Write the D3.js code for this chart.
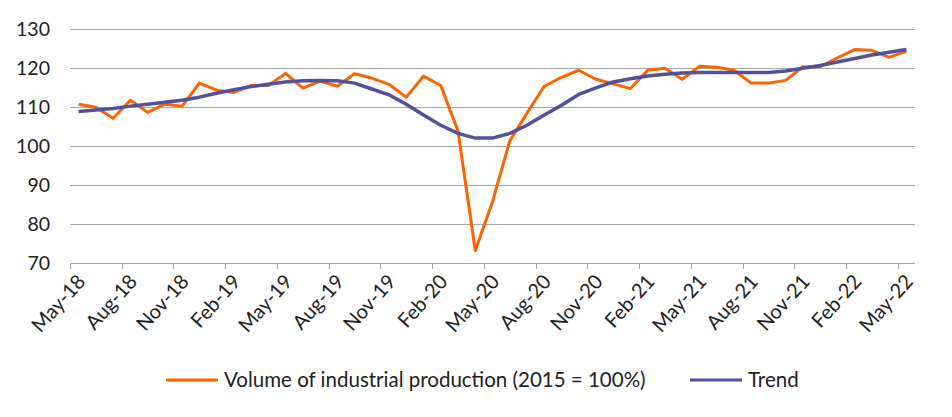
<!DOCTYPE html>
<html>
<head>
<meta charset="utf-8">
<script src="https://cdn.jsdelivr.net/npm/d3@7"></script>
<style>
  html, body { margin: 0; padding: 0; background: #fff; }
  svg { display: block; }
  text { font-family: Lato, "Noto Sans", sans-serif; fill: #222; }
</style>
</head>
<body>
<svg id="chart" width="952" height="417"></svg>
<script>
const months = ["May-18","Jun-18","Jul-18","Aug-18","Sep-18","Oct-18","Nov-18","Dec-18",
  "Jan-19","Feb-19","Mar-19","Apr-19","May-19","Jun-19","Jul-19","Aug-19","Sep-19","Oct-19","Nov-19","Dec-19",
  "Jan-20","Feb-20","Mar-20","Apr-20","May-20","Jun-20","Jul-20","Aug-20","Sep-20","Oct-20","Nov-20","Dec-20",
  "Jan-21","Feb-21","Mar-21","Apr-21","May-21","Jun-21","Jul-21","Aug-21","Sep-21","Oct-21","Nov-21","Dec-21",
  "Jan-22","Feb-22","Mar-22","Apr-22","May-22"];

const production = [110.8,110.0,107.2,111.8,108.7,110.8,110.3,116.2,
  114.4,113.8,115.6,115.6,118.7,114.9,116.7,115.4,118.6,117.5,115.9,112.6,
  118.0,115.6,103.9,73.3,85.8,101.4,108.5,115.4,117.7,119.5,117.2,116.0,
  114.8,119.5,120.0,117.2,120.5,120.3,119.5,116.2,116.2,116.9,120.4,120.4,
  122.7,124.8,124.6,122.8,124.4];

const trend = [108.9,109.3,109.7,110.3,110.8,111.3,111.8,112.6,
  113.6,114.5,115.3,115.9,116.5,116.8,116.9,116.8,116.2,114.7,113.2,110.8,
  108.0,105.4,103.3,102.1,102.1,103.3,105.4,108.0,110.5,113.3,115.0,116.5,
  117.3,118.0,118.5,118.8,118.9,118.9,118.9,118.9,118.9,119.3,120.0,120.7,
  121.6,122.5,123.4,124.1,124.8];

const yTicks = [70,80,90,100,110,120,130];
const seriesNames = ["Volume of industrial production (2015 = 100%)", "Trend"];
const colors = ["#FF6200", "#525199"];

const svg = d3.select("#chart");
const mLeft = 70, mRight = 915, mTop = 29.3, mBottom = 263.3;

const x = d3.scaleBand().domain(months).range([mLeft, mRight]).paddingInner(0).paddingOuter(0);
const cx = d => x(d) + x.bandwidth() / 2;
const y = d3.scaleLinear().domain([70, 130]).range([mBottom, mTop]);

// gridlines
svg.append("g")
  .selectAll("line").data(yTicks.filter(t => t > 70)).join("line")
  .attr("x1", mLeft).attr("x2", mRight)
  .attr("y1", d => Math.round(y(d)) + 0.5).attr("y2", d => Math.round(y(d)) + 0.5)
  .attr("stroke", "#a6a6a6").attr("stroke-width", 1);

// y axis labels
const yAxis = d3.axisLeft(y).tickValues(yTicks).tickSize(0).tickPadding(0);
const yg = svg.append("g").attr("transform", `translate(${mLeft - 20},0)`).call(yAxis);
yg.select(".domain").remove();
yg.selectAll("text").attr("font-size", 19.5).attr("font-family", "Lato, sans-serif").attr("fill", "#222");

// x axis line
svg.append("line")
  .attr("x1", mLeft).attr("x2", mRight)
  .attr("y1", Math.round(mBottom) + 0.5).attr("y2", Math.round(mBottom) + 0.5)
  .attr("stroke", "#a6a6a6").attr("stroke-width", 1);

const tickMonths = months.filter((m, i) => i % 3 === 0);
// tick marks at category boundaries
svg.append("g").selectAll("line").data(tickMonths).join("line")
  .attr("x1", d => Math.round(x(d)) + 0.5).attr("x2", d => Math.round(x(d)) + 0.5)
  .attr("y1", Math.round(mBottom)).attr("y2", Math.round(mBottom) + 6)
  .attr("stroke", "#a6a6a6").attr("stroke-width", 1);

// x labels via axis
const xAxis = d3.axisBottom(x).tickValues(tickMonths).tickSize(0).tickPadding(0);
const xg = svg.append("g").attr("transform", `translate(0,${mBottom})`).call(xAxis);
xg.select(".domain").remove();
xg.selectAll("text")
  .attr("font-size", 20).attr("font-family", "Lato, sans-serif").attr("fill", "#222")
  .attr("text-anchor", "end").attr("dy", null).attr("y", 0)
  .attr("transform", "translate(8,19) rotate(-48)");

// lines
const line = d3.line().x((d, i) => cx(months[i])).y(d => y(d));
svg.append("path").datum(production)
  .attr("fill", "none").attr("stroke", colors[0]).attr("stroke-width", 3)
  .attr("stroke-linejoin", "round").attr("d", line);
svg.append("path").datum(trend)
  .attr("fill", "none").attr("stroke", colors[1]).attr("stroke-width", 3.5)
  .attr("stroke-linejoin", "round").attr("d", line);

// legend
const legendItems = [
  {name: seriesNames[0], color: colors[0], x: 166},
  {name: seriesNames[1], color: colors[1], x: 690}
];
const lg = svg.append("g");
legendItems.forEach(it => {
  lg.append("line").attr("x1", it.x).attr("x2", it.x + 52)
    .attr("y1", 380).attr("y2", 380)
    .attr("stroke", it.color).attr("stroke-width", 3);
  lg.append("text").attr("x", it.x + 58).attr("y", 380).attr("dy", "0.35em")
    .attr("font-size", 20.5).attr("font-family", "Lato, sans-serif").attr("fill", "#222")
    .text(it.name);
});
</script>
</body>
</html>
